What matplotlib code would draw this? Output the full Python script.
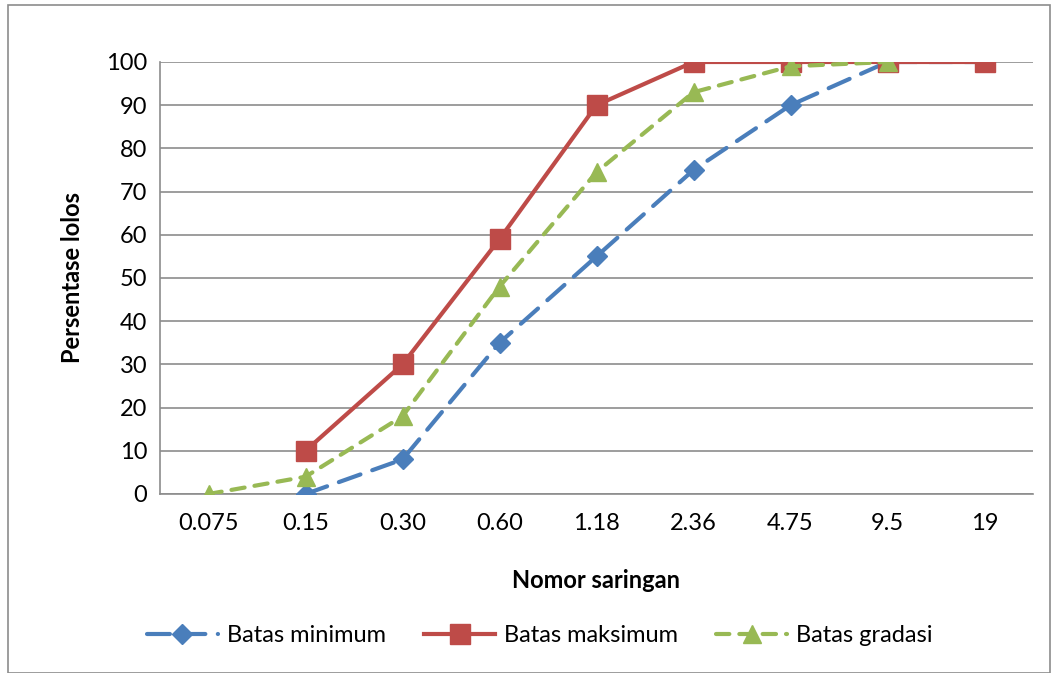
import matplotlib
matplotlib.use("Agg")
import matplotlib.pyplot as plt
from matplotlib.patches import Rectangle
import numpy as np

categories = ["0.075", "0.15", "0.30", "0.60", "1.18", "2.36", "4.75", "9.5", "19"]
batas_minimum = [None, 0, 8, 35, 55, 75, 90, 100, 100]
batas_maksimum = [None, 10, 30, 59, 90, 100, 100, 100, 100]
batas_gradasi = [0, 4, 18, 48, 74.5, 93, 99, 100, None]
y_ticks = [0, 10, 20, 30, 40, 50, 60, 70, 80, 90, 100]

plt.rcParams['font.family'] = ['Lato', 'DejaVu Sans']

W, H = 1056, 673
fig = plt.figure(figsize=(W / 100, H / 100), dpi=100)
ax = fig.add_axes([160 / W, 1 - 494 / H, (1033 - 160) / W, (494 - 62) / H])

x = np.arange(len(categories))

def series(vals):
    xs = [i for i, v in enumerate(vals) if v is not None]
    ys = [v for v in vals if v is not None]
    return xs, ys

blue = "#4A7EBB"
red = "#BE4B48"
green = "#98B954"

xs, ys = series(batas_minimum)
ax.plot(xs, ys, color=blue, lw=3, linestyle=(0, (5.5, 3)), dash_capstyle='round',
        marker='D', markersize=10, label="Batas minimum", zorder=3)
xs, ys = series(batas_maksimum)
ax.plot(xs, ys, color=red, lw=3, marker='s', markersize=14, label="Batas maksimum", zorder=4)
xs, ys = series(batas_gradasi)
ax.plot(xs, ys, color=green, lw=3, linestyle=(0, (3.2, 2.4)), dash_capstyle='round',
        marker='^', markersize=13, label="Batas gradasi", zorder=5)

ax.set_xlim(-0.5, len(categories) - 0.5)
ax.set_ylim(0, 100)
ax.set_xticks(x)
ax.set_xticklabels(categories)
ax.set_yticks(y_ticks)
ax.tick_params(axis='both', length=0, labelsize=17, pad=9)
ax.tick_params(axis='x', pad=14)
ax.grid(axis='y', color='#8C8C8C', lw=1.2)
ax.set_axisbelow(True)
for s in ['top', 'right']:
    ax.spines[s].set_visible(False)
for s in ['left', 'bottom']:
    ax.spines[s].set_color('#8C8C8C')
    ax.spines[s].set_linewidth(1.2)

ax.set_xlabel("Nomor saringan", fontsize=17, fontweight='bold', labelpad=25)
ax.set_ylabel("Persentase lolos", fontsize=17, fontweight='bold', labelpad=16)

fig.legend(loc='center', bbox_to_anchor=(540 / W, 1 - 636 / H), ncol=3, frameon=False,
           fontsize=17, handlelength=3.0, columnspacing=1.6, handletextpad=0.4)

fig.patches.append(Rectangle((8 / W, 0), (1050 - 8) / W, 1 - 5 / H, transform=fig.transFigure,
                             fill=False, edgecolor='#8C8C8C', lw=1.2))

fig.savefig("out.png", dpi=100)
